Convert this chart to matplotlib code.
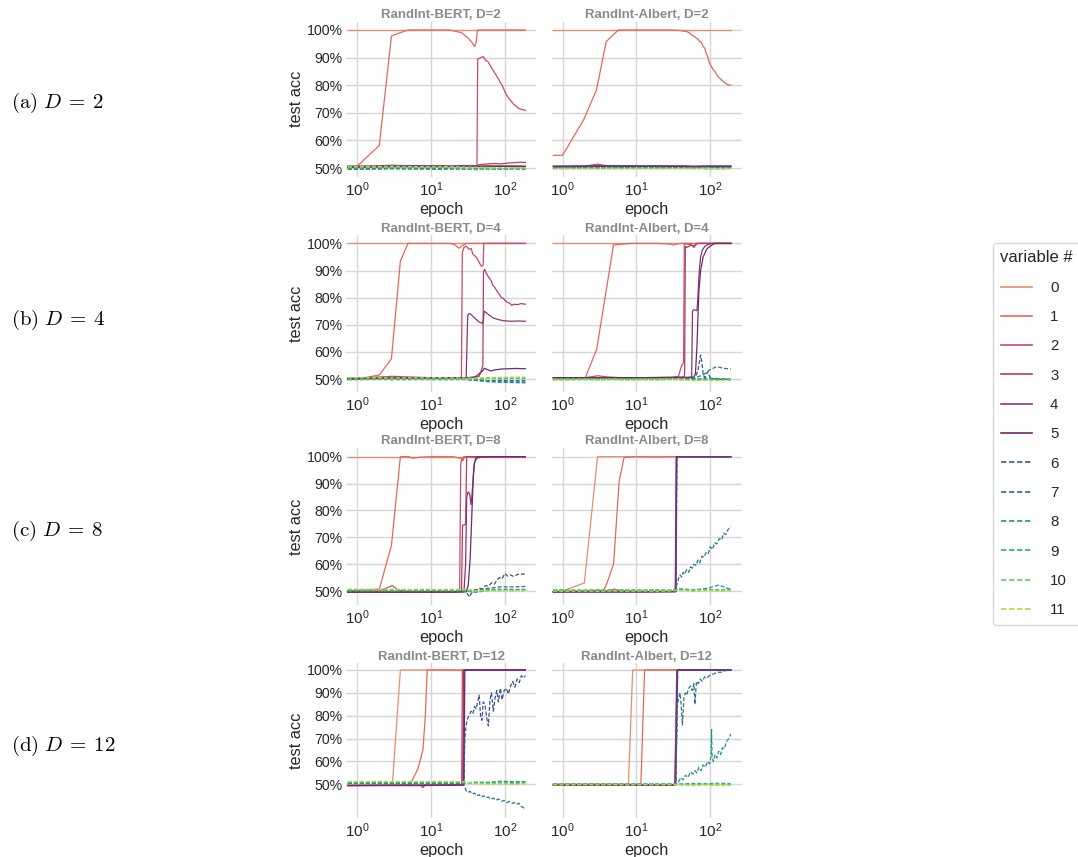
import matplotlib
matplotlib.use("Agg")
import matplotlib.pyplot as plt
from matplotlib.ticker import FixedLocator, NullLocator, FuncFormatter
from matplotlib.lines import Line2D

plt.rcParams['font.family'] = ['Liberation Sans', 'DejaVu Sans']
plt.rcParams['mathtext.fontset'] = 'custom'
plt.rcParams['mathtext.rm'] = 'Liberation Sans'
plt.rcParams['mathtext.it'] = 'Liberation Sans:italic'
plt.rcParams['mathtext.bf'] = 'Liberation Sans:bold'

# ---------------- data ----------------
VARIABLES = [str(i) for i in range(12)]
COLORS = ['#e98d6b', '#e3685c', '#d14a61', '#b13c6c', '#8f3371', '#6c2b6d',
          '#3b528b', '#2c728e', '#21918c', '#28ae80', '#5ec962', '#addc30']
MODELS = ['RandInt-BERT', 'RandInt-Albert']
DEPTHS = [2, 4, 8, 12]
ROW_LABELS = ['(a)', '(b)', '(c)', '(d)']
Y_TICKS = [0.5, 0.6, 0.7, 0.8, 0.9, 1.0]

FLAT_EP = [0.75, 1, 2, 3, 5, 8, 12, 18, 27, 40, 60, 90, 130, 190]

# ---- BERT, D=2 ----
BERT_D2_X = [
    [0.75, 190],
    [0.75, 1, 2, 2.92, 3.4, 4.9, 10, 18, 26, 32, 36, 39, 41, 42.6, 60, 190],
    [0.75, 3, 10, 30, 42, 43, 46, 51, 55, 59, 64, 69, 75, 81, 87, 93, 99, 105, 114, 123, 133, 143, 155, 170, 190],
    [0.75, 2, 5, 12, 27, 42, 45, 55, 70, 90, 110, 130, 160, 190],
    FLAT_EP, FLAT_EP, FLAT_EP, FLAT_EP, FLAT_EP, FLAT_EP, FLAT_EP, FLAT_EP,
]
BERT_D2_Y = [
    [1.0, 1.0],
    [0.505, 0.506, 0.582, 0.978, 0.985, 1.0, 1.0, 1.0, 0.99, 0.97, 0.955, 0.94, 0.955, 1.0, 1.0, 1.0],
    [0.503, 0.505, 0.505, 0.506, 0.508, 0.895, 0.898, 0.904, 0.89, 0.886, 0.87, 0.855, 0.84, 0.825, 0.81, 0.798, 0.78, 0.765, 0.752, 0.741, 0.73, 0.723, 0.716, 0.712, 0.709],
    [0.504, 0.505, 0.507, 0.507, 0.507, 0.508, 0.512, 0.514, 0.516, 0.515, 0.518, 0.519, 0.521, 0.52],
    [0.507, 0.507, 0.508, 0.51, 0.508, 0.508, 0.508, 0.507, 0.508, 0.507, 0.508, 0.507, 0.508, 0.507],
    [0.503, 0.503, 0.504, 0.505, 0.505, 0.505, 0.505, 0.505, 0.506, 0.505, 0.505, 0.506, 0.505, 0.505],
    [0.500, 0.500, 0.500, 0.502, 0.501, 0.500, 0.501, 0.500, 0.500, 0.499, 0.500, 0.498, 0.499, 0.498],
    [0.497, 0.497, 0.498, 0.499, 0.498, 0.498, 0.497, 0.498, 0.497, 0.496, 0.497, 0.496, 0.497, 0.496],
    [0.495, 0.495, 0.496, 0.497, 0.496, 0.496, 0.495, 0.496, 0.496, 0.497, 0.498, 0.496, 0.497, 0.497],
    [0.498, 0.499, 0.500, 0.501, 0.499, 0.500, 0.500, 0.499, 0.498, 0.494, 0.496, 0.495, 0.497, 0.498],
    [0.502, 0.503, 0.502, 0.503, 0.503, 0.502, 0.503, 0.502, 0.500, 0.496, 0.498, 0.497, 0.498, 0.499],
    [0.504, 0.505, 0.505, 0.506, 0.505, 0.505, 0.504, 0.505, 0.504, 0.503, 0.502, 0.501, 0.502, 0.501],
]

# ---- Albert, D=2 ----
ALB_D2_X = [
    [0.75, 190],
    [0.75, 1, 1.93, 2.88, 3.9, 5.7, 10, 20, 30, 39, 44, 48, 52, 56, 60, 64, 68, 72, 76, 80, 84, 88, 92, 96, 100, 105, 110, 116, 122, 128, 135, 143, 152, 162, 174, 190],
    [0.75, 1, 2, 3, 4, 6, 12, 27, 60, 190],
    FLAT_EP, FLAT_EP, FLAT_EP, FLAT_EP, FLAT_EP, FLAT_EP, FLAT_EP, FLAT_EP, FLAT_EP,
]
ALB_D2_Y = [
    [1.0, 1.0],
    [0.546, 0.546, 0.675, 0.783, 0.958, 1.0, 1.0, 1.0, 1.0, 0.998, 0.996, 0.994, 0.99, 0.982, 0.978, 0.972, 0.968, 0.958, 0.955, 0.94, 0.935, 0.915, 0.905, 0.885, 0.875, 0.865, 0.855, 0.85, 0.838, 0.83, 0.825, 0.818, 0.812, 0.806, 0.801, 0.80],
    [0.505, 0.505, 0.507, 0.514, 0.508, 0.506, 0.506, 0.506, 0.505, 0.506],
    [0.506, 0.506, 0.507, 0.508, 0.508, 0.508, 0.507, 0.508, 0.508, 0.508, 0.507, 0.508, 0.507, 0.508],
    [0.504, 0.504, 0.505, 0.506, 0.505, 0.505, 0.506, 0.505, 0.505, 0.506, 0.505, 0.506, 0.507, 0.505],
    [0.507, 0.507, 0.507, 0.507, 0.507, 0.507, 0.507, 0.507, 0.506, 0.506, 0.505, 0.505, 0.504, 0.505],
    [0.502, 0.502, 0.502, 0.503, 0.503, 0.502, 0.503, 0.503, 0.502, 0.502, 0.503, 0.505, 0.503, 0.504],
    [0.500, 0.500, 0.501, 0.500, 0.500, 0.501, 0.500, 0.501, 0.500, 0.501, 0.499, 0.502, 0.500, 0.501],
    [0.499, 0.499, 0.499, 0.500, 0.499, 0.499, 0.500, 0.499, 0.499, 0.500, 0.498, 0.499, 0.501, 0.499],
    [0.501, 0.501, 0.500, 0.500, 0.501, 0.500, 0.500, 0.501, 0.500, 0.499, 0.500, 0.497, 0.499, 0.500],
    [0.498, 0.498, 0.498, 0.499, 0.498, 0.498, 0.499, 0.498, 0.499, 0.498, 0.499, 0.498, 0.496, 0.498],
    [0.497, 0.497, 0.497, 0.496, 0.497, 0.497, 0.497, 0.497, 0.497, 0.498, 0.497, 0.499, 0.497, 0.498],
]

# ---- BERT, D=4 ----
BERT_D4_X = [
    [0.75, 190],
    [0.75, 1, 2, 2.92, 3.86, 4.9, 10, 18, 21, 24, 26, 30, 40, 190],
    [0.75, 3, 10, 25, 25.9, 26.6, 28, 30, 33, 35, 37, 39, 41, 44, 46, 48.5, 51, 52, 60, 190],
    [0.75, 10, 30, 40, 45, 48, 50.5, 51.5, 53.5, 56, 59, 63, 66, 69, 73, 77, 81, 85, 90, 95, 101, 108, 116, 125, 135, 148, 165, 190],
    [0.75, 10, 29, 30, 31.5, 33, 35, 38, 41, 44, 47, 50, 51.5, 52.5, 56, 62, 70, 80, 95, 120, 150, 190],
    [0.75, 3, 10, 30, 38, 42, 46, 50, 53, 58, 65, 75, 90, 110, 140, 190],
    FLAT_EP, FLAT_EP, FLAT_EP, FLAT_EP, FLAT_EP, FLAT_EP,
]
BERT_D4_Y = [
    [1.0, 1.0],
    [0.498, 0.50, 0.515, 0.575, 0.935, 1.0, 1.0, 1.0, 0.995, 0.982, 0.99, 1.0, 1.0, 1.0],
    [0.502, 0.51, 0.505, 0.505, 0.507, 0.965, 0.985, 0.99, 0.978, 0.982, 0.96, 0.955, 0.95, 0.935, 0.925, 0.915, 0.92, 1.0, 1.0, 1.0],
    [0.503, 0.505, 0.505, 0.506, 0.51, 0.53, 0.55, 0.895, 0.905, 0.89, 0.88, 0.87, 0.86, 0.845, 0.838, 0.828, 0.818, 0.812, 0.80, 0.798, 0.79, 0.783, 0.78, 0.772, 0.776, 0.774, 0.778, 0.776],
    [0.50, 0.505, 0.505, 0.507, 0.735, 0.742, 0.738, 0.728, 0.72, 0.712, 0.708, 0.705, 0.72, 0.75, 0.745, 0.735, 0.725, 0.72, 0.715, 0.713, 0.714, 0.713],
    [0.50, 0.505, 0.503, 0.505, 0.507, 0.512, 0.522, 0.53, 0.54, 0.535, 0.53, 0.534, 0.537, 0.538, 0.539, 0.538],
    [0.502, 0.502, 0.501, 0.502, 0.502, 0.501, 0.502, 0.501, 0.500, 0.496, 0.494, 0.495, 0.494, 0.494],
    [0.499, 0.499, 0.500, 0.499, 0.500, 0.499, 0.500, 0.499, 0.499, 0.495, 0.49, 0.488, 0.487, 0.486],
    [0.503, 0.504, 0.503, 0.503, 0.502, 0.503, 0.503, 0.502, 0.502, 0.50, 0.493, 0.49, 0.49, 0.489],
    [0.500, 0.500, 0.499, 0.500, 0.501, 0.500, 0.500, 0.500, 0.500, 0.501, 0.503, 0.502, 0.503, 0.502],
    [0.497, 0.497, 0.498, 0.497, 0.497, 0.498, 0.497, 0.497, 0.498, 0.50, 0.503, 0.504, 0.505, 0.505],
    [0.505, 0.505, 0.505, 0.504, 0.505, 0.504, 0.505, 0.504, 0.504, 0.503, 0.505, 0.506, 0.507, 0.507],
]

# ---- Albert, D=4 ----
ALB_D4_X = [
    [0.75, 190],
    [0.75, 1, 2.03, 2.9, 4.9, 6, 8, 12, 20, 28, 32, 35, 40, 190],
    [0.75, 2, 3, 4, 6, 10, 30, 37, 41, 43.5, 44.5, 48, 55, 60, 65, 75, 190],
    [0.75, 10, 30, 44, 45, 46, 48, 52, 56, 60, 65, 70, 190],
    [0.75, 10, 30, 50, 56, 57.5, 59, 62, 66, 68, 71, 74, 78, 85, 95, 110, 190],
    [0.75, 10, 30, 50, 60, 63, 66, 70, 74, 80, 90, 100, 115, 190],
    [0.75, 10, 40, 55, 62, 68, 72, 74, 77, 80, 84, 88, 92, 96, 100, 110, 125, 140, 160, 190],
    [0.75, 10, 40, 60, 70, 80, 90, 100, 110, 120, 135, 150, 170, 190],
    FLAT_EP, FLAT_EP, FLAT_EP, FLAT_EP,
]
ALB_D4_Y = [
    [1.0, 1.0],
    [0.503, 0.503, 0.505, 0.61, 0.995, 0.996, 1.0, 1.0, 1.0, 0.998, 0.994, 0.998, 1.0, 1.0],
    [0.503, 0.505, 0.512, 0.508, 0.505, 0.505, 0.505, 0.51, 0.55, 0.56, 1.0, 0.998, 0.995, 0.99, 1.0, 1.0, 1.0],
    [0.505, 0.505, 0.506, 0.507, 0.52, 0.99, 0.985, 0.99, 0.995, 0.985, 0.998, 1.0, 1.0],
    [0.505, 0.505, 0.506, 0.506, 0.507, 0.75, 0.755, 0.754, 0.752, 0.80, 0.90, 0.95, 0.975, 0.99, 0.997, 1.0, 1.0],
    [0.505, 0.505, 0.506, 0.506, 0.507, 0.52, 0.62, 0.82, 0.90, 0.95, 0.98, 0.99, 1.0, 1.0],
    [0.50, 0.50, 0.50, 0.502, 0.505, 0.53, 0.57, 0.588, 0.56, 0.52, 0.505, 0.515, 0.527, 0.515, 0.505, 0.50, 0.502, 0.498, 0.50, 0.497],
    [0.502, 0.50, 0.50, 0.502, 0.51, 0.515, 0.525, 0.535, 0.54, 0.545, 0.543, 0.54, 0.538, 0.537],
    [0.501, 0.501, 0.500, 0.501, 0.500, 0.501, 0.500, 0.501, 0.500, 0.500, 0.499, 0.503, 0.502, 0.500],
    [0.498, 0.498, 0.499, 0.498, 0.499, 0.498, 0.499, 0.498, 0.499, 0.498, 0.499, 0.497, 0.499, 0.498],
    [0.500, 0.500, 0.501, 0.500, 0.501, 0.500, 0.501, 0.500, 0.501, 0.500, 0.496, 0.498, 0.496, 0.497],
    [0.496, 0.496, 0.497, 0.496, 0.497, 0.496, 0.497, 0.496, 0.497, 0.497, 0.494, 0.495, 0.494, 0.496],
]

# ---- BERT, D=8 ----
BERT_D8_X = [
    [0.75, 190],
    [0.75, 1, 2, 2.92, 3.86, 5, 5.7, 7, 10, 15, 20, 24, 26, 28, 30, 190],
    [0.75, 2, 3, 3.6, 5, 10, 20, 24.5, 25.3, 26, 27, 28, 30, 190],
    [0.75, 10, 26, 26.8, 28, 29.5, 30.5, 40, 190],
    [0.75, 10, 28, 29.5, 30.5, 32, 33.5, 35, 37, 38.5, 41, 50, 190],
    [0.75, 10, 30, 32, 34, 36, 37.5, 39, 42, 50, 190],
    [0.75, 10, 27, 30, 32, 33.5, 35, 38, 42, 46, 50, 55, 60, 66, 72, 78, 85, 92, 100, 110, 120, 130, 145, 160, 175, 190],
    FLAT_EP, FLAT_EP, FLAT_EP, FLAT_EP, FLAT_EP,
]
BERT_D8_Y = [
    [1.0, 1.0],
    [0.50, 0.503, 0.507, 0.67, 1.0, 1.0, 0.994, 0.998, 1.0, 1.0, 1.0, 0.995, 0.993, 1.0, 1.0, 1.0],
    [0.497, 0.50, 0.52, 0.503, 0.498, 0.497, 0.497, 0.498, 0.97, 0.99, 0.985, 0.995, 1.0, 1.0],
    [0.496, 0.496, 0.497, 0.745, 0.745, 0.75, 1.0, 1.0, 1.0],
    [0.496, 0.496, 0.497, 0.60, 0.85, 0.87, 0.86, 0.82, 0.90, 0.97, 1.0, 1.0, 1.0],
    [0.496, 0.496, 0.497, 0.52, 0.62, 0.80, 0.93, 0.98, 0.995, 1.0, 1.0],
    [0.503, 0.503, 0.50, 0.497, 0.485, 0.478, 0.49, 0.50, 0.505, 0.51, 0.508, 0.52, 0.518, 0.53, 0.525, 0.54, 0.55, 0.545, 0.565, 0.555, 0.56, 0.555, 0.56, 0.565, 0.562, 0.565],
    [0.502, 0.502, 0.503, 0.502, 0.503, 0.502, 0.503, 0.502, 0.50, 0.505, 0.51, 0.516, 0.515, 0.517],
    [0.505, 0.505, 0.504, 0.505, 0.504, 0.505, 0.505, 0.504, 0.503, 0.497, 0.505, 0.507, 0.506, 0.506],
    [0.500, 0.500, 0.501, 0.500, 0.501, 0.500, 0.501, 0.500, 0.501, 0.495, 0.502, 0.503, 0.502, 0.503],
    [0.504, 0.504, 0.503, 0.504, 0.503, 0.504, 0.504, 0.503, 0.504, 0.50, 0.503, 0.502, 0.503, 0.503],
    [0.507, 0.507, 0.506, 0.507, 0.506, 0.507, 0.506, 0.507, 0.506, 0.50, 0.501, 0.502, 0.501, 0.502],
]

# ---- Albert, D=8 ----
ALB_D8_X = [
    [0.75, 1, 1.97, 2.98, 190],
    [0.75, 3.6, 4, 4.9, 5.85, 6.8, 10, 20, 30, 190],
    [0.75, 4, 5, 6, 10, 20, 33.5, 34.5, 190],
    [0.75, 10, 33.8, 34.8, 190],
    [0.75, 10, 34, 35, 190],
    [0.75, 10, 34.2, 35.2, 190],
    [0.75, 10, 34.4, 35.4, 190],
    [0.75, 10, 34, 35, 37, 39, 41, 43, 45, 48, 51, 54, 57, 60, 64, 68, 72, 77, 82, 88, 94, 100, 107, 115, 123, 132, 142, 152, 163, 175, 190],
    FLAT_EP, FLAT_EP, FLAT_EP, FLAT_EP,
]
ALB_D8_Y = [
    [0.497, 0.50, 0.53, 1.0, 1.0],
    [0.497, 0.503, 0.53, 0.60, 0.91, 0.997, 1.0, 0.998, 1.0, 1.0],
    [0.497, 0.50, 0.507, 0.502, 0.498, 0.498, 0.498, 1.0, 1.0],
    [0.497, 0.497, 0.498, 1.0, 1.0],
    [0.497, 0.497, 0.498, 1.0, 1.0],
    [0.497, 0.497, 0.498, 1.0, 1.0],
    [0.500, 0.500, 0.500, 1.0, 1.0],
    [0.502, 0.502, 0.502, 0.52, 0.545, 0.56, 0.552, 0.57, 0.563, 0.58, 0.57, 0.59, 0.585, 0.60, 0.595, 0.615, 0.605, 0.63, 0.625, 0.645, 0.64, 0.665, 0.655, 0.68, 0.675, 0.695, 0.69, 0.715, 0.71, 0.73, 0.74],
    [0.503, 0.503, 0.502, 0.503, 0.502, 0.503, 0.502, 0.503, 0.502, 0.508, 0.505, 0.51, 0.522, 0.506],
    [0.500, 0.500, 0.501, 0.500, 0.501, 0.500, 0.501, 0.500, 0.501, 0.505, 0.503, 0.507, 0.504, 0.505],
    [0.504, 0.504, 0.504, 0.505, 0.504, 0.505, 0.504, 0.505, 0.504, 0.502, 0.506, 0.503, 0.505, 0.503],
    [0.499, 0.499, 0.500, 0.499, 0.500, 0.499, 0.500, 0.499, 0.500, 0.503, 0.498, 0.503, 0.499, 0.502],
]

# ---- BERT, D=12 ----
BERT_D12_X = [
    [0.75, 3.0, 3.86, 190],
    [0.75, 5.2, 6.7, 7.8, 8.4, 8.9, 20, 26, 190],
    [0.75, 12, 26, 26.7, 190],
    [0.75, 7.3, 7.8, 8.3, 27, 27.6, 190],
    [0.75, 27.5, 28.2, 190],
    [0.75, 28, 28.8, 190],
    [0.75, 10, 28, 28.8, 30, 31.5, 33, 35, 37, 39, 41, 43, 45, 47, 49, 51, 54, 57, 60, 63, 66, 70, 74, 78, 82, 87, 92, 98, 105, 112, 120, 128, 137, 147, 157, 168, 178, 190],
    [0.75, 10, 27, 28.5, 30, 32, 34, 36, 39, 42, 45, 48, 52, 56, 60, 65, 70, 76, 82, 90, 98, 106, 115, 125, 135, 145, 155, 165, 178, 190],
    FLAT_EP, FLAT_EP, FLAT_EP, FLAT_EP,
]
BERT_D12_Y = [
    [0.495, 0.496, 1.0, 1.0],
    [0.495, 0.497, 0.57, 0.652, 0.80, 1.0, 1.0, 0.998, 1.0],
    [0.495, 0.495, 0.497, 1.0, 1.0],
    [0.495, 0.495, 0.486, 0.496, 0.497, 1.0, 1.0],
    [0.495, 0.497, 1.0, 1.0],
    [0.495, 0.497, 1.0, 1.0],
    [0.505, 0.505, 0.505, 0.70, 0.76, 0.79, 0.80, 0.82, 0.81, 0.84, 0.83, 0.86, 0.89, 0.80, 0.78, 0.86, 0.85, 0.79, 0.755, 0.87, 0.90, 0.82, 0.88, 0.91, 0.86, 0.92, 0.87, 0.91, 0.92, 0.895, 0.93, 0.95, 0.925, 0.96, 0.945, 0.975, 0.965, 0.975],
    [0.505, 0.505, 0.505, 0.49, 0.472, 0.465, 0.47, 0.458, 0.462, 0.45, 0.455, 0.444, 0.45, 0.441, 0.445, 0.435, 0.44, 0.43, 0.436, 0.426, 0.43, 0.42, 0.425, 0.417, 0.42, 0.412, 0.418, 0.405, 0.398, 0.394],
    [0.505, 0.505, 0.506, 0.505, 0.506, 0.505, 0.506, 0.505, 0.505, 0.51, 0.508, 0.514, 0.511, 0.512],
    [0.508, 0.508, 0.507, 0.508, 0.507, 0.508, 0.507, 0.508, 0.507, 0.505, 0.509, 0.51, 0.508, 0.509],
    [0.510, 0.51, 0.511, 0.51, 0.511, 0.51, 0.511, 0.51, 0.51, 0.506, 0.503, 0.504, 0.503, 0.505],
    [0.512, 0.512, 0.513, 0.512, 0.513, 0.512, 0.513, 0.512, 0.512, 0.503, 0.501, 0.503, 0.50, 0.502],
]

# ---- Albert, D=12 ----
ALB_D12_X = [
    [0.75, 7.8, 8.9, 190],
    [0.75, 11.5, 12.9, 190],
    [0.75, 33, 35.2, 190],
    [0.75, 33.3, 35.5, 190],
    [0.75, 33.6, 35.8, 190],
    [0.75, 34, 36, 190],
    [0.75, 34.2, 36.3, 190],
    [0.75, 10, 34, 36, 37.5, 39, 40.5, 42, 44, 46, 48, 51, 54, 57, 60, 62, 65, 69, 73, 78, 84, 90, 97, 105, 115, 127, 140, 155, 170, 190],
    [0.75, 10, 35, 37, 40, 43, 46, 50, 54, 58, 62, 66, 70, 75, 80, 86, 92, 98, 102, 104, 106, 110, 116, 123, 130, 138, 146, 155, 165, 177, 190],
    FLAT_EP, FLAT_EP, FLAT_EP,
]
ALB_D12_Y = [
    [0.50, 0.50, 1.0, 1.0],
    [0.50, 0.50, 1.0, 1.0],
    [0.498, 0.498, 1.0, 1.0],
    [0.498, 0.498, 1.0, 1.0],
    [0.498, 0.498, 1.0, 1.0],
    [0.498, 0.498, 1.0, 1.0],
    [0.50, 0.50, 1.0, 1.0],
    [0.50, 0.50, 0.50, 0.85, 0.88, 0.90, 0.84, 0.76, 0.88, 0.90, 0.89, 0.92, 0.93, 0.91, 0.94, 0.85, 0.95, 0.94, 0.96, 0.95, 0.97, 0.965, 0.975, 0.98, 0.985, 0.99, 0.99, 0.995, 1.0, 1.0],
    [0.50, 0.50, 0.50, 0.51, 0.53, 0.52, 0.54, 0.53, 0.555, 0.545, 0.56, 0.55, 0.575, 0.56, 0.585, 0.575, 0.60, 0.59, 0.62, 0.74, 0.62, 0.60, 0.63, 0.615, 0.645, 0.63, 0.66, 0.655, 0.685, 0.70, 0.72],
    [0.50, 0.50, 0.501, 0.50, 0.501, 0.50, 0.501, 0.50, 0.501, 0.502, 0.504, 0.503, 0.505, 0.503],
    [0.502, 0.502, 0.501, 0.502, 0.501, 0.502, 0.501, 0.502, 0.501, 0.50, 0.498, 0.501, 0.497, 0.50],
    [0.498, 0.498, 0.499, 0.498, 0.499, 0.498, 0.499, 0.498, 0.499, 0.497, 0.495, 0.497, 0.495, 0.496],
]

PANELS = [
    [(BERT_D2_X, BERT_D2_Y), (ALB_D2_X, ALB_D2_Y)],
    [(BERT_D4_X, BERT_D4_Y), (ALB_D4_X, ALB_D4_Y)],
    [(BERT_D8_X, BERT_D8_Y), (ALB_D8_X, ALB_D8_Y)],
    [(BERT_D12_X, BERT_D12_Y), (ALB_D12_X, ALB_D12_Y)],
]

# ---------------- layout ----------------
W, H = 1078, 857
fig = plt.figure(figsize=(W / 100, H / 100), dpi=100)

ROW_PX = [(21.7, 176.7), (235.0, 391.8), (447.8, 605.0), (663.1, 818.0)]
ROW_YLIM = [(0.4685, 1.03), (0.453, 1.031), (0.448, 1.033), (0.353, 1.03)]
COL_PX = [(346.0, 536.0), (551.5, 741.5)]
ROW_LABEL_Y = [103, 320, 531, 746]
XLIM = (10 ** -0.15, 10 ** 2.423)

GRID_C = '#d6d6d6'
TEXT_C = '#262626'

for r in range(4):
    for c in range(2):
        t, b = ROW_PX[r]
        l, rr = COL_PX[c]
        ax = fig.add_axes([l / W, 1 - b / H, (rr - l) / W, (b - t) / H])
        xs_list, ys_list = PANELS[r][c]
        for i in range(12):
            kw = dict(color=COLORS[i], lw=0.9, solid_joinstyle='miter')
            if i >= 6:
                kw['dashes'] = (3.2, 1.6)
            ax.plot(xs_list[i], ys_list[i], **kw)
        ax.set_xscale('log')
        ax.set_xlim(*XLIM)
        ax.set_ylim(*ROW_YLIM[r])
        ax.xaxis.set_major_locator(FixedLocator([1, 10, 100]))
        ax.xaxis.set_minor_locator(NullLocator())
        ax.yaxis.set_major_locator(FixedLocator(Y_TICKS))
        ax.yaxis.set_major_formatter(FuncFormatter(lambda v, p: f"{v * 100:.0f}%"))
        ax.grid(True, color=GRID_C, lw=1.0)
        ax.set_axisbelow(True)
        for s in ax.spines.values():
            s.set_visible(False)
        ax.tick_params(axis='both', length=0, colors=TEXT_C)
        ax.tick_params(axis='y', pad=2.5, labelsize=10.2)
        ax.tick_params(axis='x', pad=2.5, labelsize=11)
        ax.set_xlabel('epoch', fontsize=11.7, color=TEXT_C, labelpad=2.2)
        if c == 0:
            ax.set_ylabel('test acc', fontsize=11.7, color=TEXT_C, labelpad=2)
        else:
            ax.tick_params(axis='y', labelleft=False)
        ax.set_title(f"{MODELS[c]}, D={DEPTHS[r]}", fontsize=9.5, fontweight='bold',
                     color='#8a8a8a', pad=2.5)
    fig.text(11 / W, 1 - ROW_LABEL_Y[r] / H,
             r"$\mathrm{" + ROW_LABELS[r] + r"}\ D\:=\:" + str(DEPTHS[r]) + "$",
             math_fontfamily='cm', fontsize=15, ha='left', va='center', color='black')

handles = []
for i in range(12):
    kw = dict(color=COLORS[i], lw=1.2)
    if i >= 6:
        kw['dashes'] = (3.2, 1.6)
    handles.append(Line2D([], [], **kw))
leg = fig.legend(handles, VARIABLES, title='variable #', loc='upper left',
                 bbox_to_anchor=(993 / W, 1 - 243 / H), bbox_transform=fig.transFigure,
                 borderaxespad=0, frameon=True, fontsize=10.8, title_fontsize=12,
                 labelspacing=1.02, handlelength=2.1, handletextpad=1.2, borderpad=0.5,
                 alignment='left')
leg.get_frame().set_edgecolor('#d0d0d0')
leg.get_frame().set_linewidth(1.0)
for txt in leg.get_texts():
    txt.set_color(TEXT_C)
leg.get_title().set_color(TEXT_C)

fig.savefig('out.png', dpi=100)
